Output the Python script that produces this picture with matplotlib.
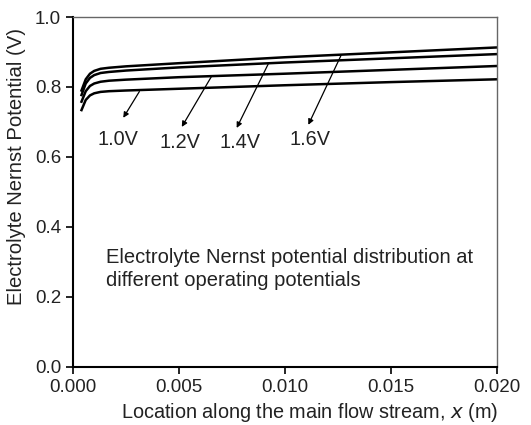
import numpy as np
import matplotlib
matplotlib.use("Agg")
import matplotlib.pyplot as plt

plt.rcParams['font.family'] = ['Liberation Sans', 'DejaVu Sans']

# location along flow (m)
x = [0.0004, 0.0006, 0.0008, 0.001, 0.0013, 0.0017, 0.0025, 0.005, 0.01, 0.015, 0.02]

# electrolyte Nernst potential (V) for each operating potential
v_10 = [0.734, 0.763, 0.776, 0.782, 0.786, 0.788, 0.790, 0.795, 0.805, 0.814, 0.822]
v_12 = [0.758, 0.788, 0.803, 0.810, 0.815, 0.818, 0.821, 0.828, 0.838, 0.849, 0.860]
v_14 = [0.777, 0.810, 0.826, 0.834, 0.840, 0.843, 0.847, 0.856, 0.870, 0.882, 0.894]
v_16 = [0.790, 0.822, 0.838, 0.846, 0.852, 0.855, 0.859, 0.868, 0.885, 0.899, 0.913]

labels = ['1.0V', '1.2V', '1.4V', '1.6V']
# arrow start (on curve), arrow tip, label position
arrow_from = [(0.00313, 0.787), (0.00654, 0.831), (0.00921, 0.866), (0.01264, 0.890)]
arrow_to = [(0.00237, 0.712), (0.00513, 0.686), (0.00772, 0.683), (0.0111, 0.692)]
label_pos = [(0.00212, 0.650), (0.00505, 0.640), (0.00788, 0.640), (0.01118, 0.650)]

txt = '#222222'
fig = plt.figure(figsize=(5.31, 4.25), dpi=100)
ax = fig.add_axes([0.1375, 0.1365, 0.7985, 0.8235])

for v in (v_10, v_12, v_14, v_16):
    ax.plot(x, v, color='black', linewidth=1.8)

for lab, p0, p1, pl in zip(labels, arrow_from, arrow_to, label_pos):
    ax.annotate('', xy=p1, xytext=p0,
                arrowprops=dict(arrowstyle='-|>', color='black', lw=0.9,
                                mutation_scale=8, shrinkA=0, shrinkB=0))
    ax.text(pl[0], pl[1], lab, ha='center', va='center', fontsize=14.3, color=txt)

ax.text(0.00156, 0.280, 'Electrolyte Nernst potential distribution at\ndifferent operating potentials',
        ha='left', va='center', fontsize=14.5, linespacing=1.32, color=txt)

ax.set_xlim(0, 0.02)
ax.set_ylim(0, 1.0)
ax.set_xticks([0.000, 0.005, 0.010, 0.015, 0.020])
ax.set_xticklabels(['0.000', '0.005', '0.010', '0.015', '0.020'])
ax.set_yticks([0.0, 0.2, 0.4, 0.6, 0.8, 1.0])
ax.set_yticklabels(['0.0', '0.2', '0.4', '0.6', '0.8', '1.0'])
ax.tick_params(direction='out', labelsize=13.5, width=1.2, length=5, labelcolor=txt)

for s in ax.spines.values():
    s.set_linewidth(1.0)
ax.spines['left'].set_linewidth(1.5)
ax.spines['bottom'].set_linewidth(1.5)
ax.spines['top'].set_color('#666666')
ax.spines['right'].set_color('#666666')

ax.set_xlabel('Location along the main flow stream, $\\mathit{x}$ (m)', fontsize=14.3, color=txt)
ax.xaxis.set_label_coords(0.557, -0.097)
ax.set_ylabel('Electrolyte Nernst Potential (V)', fontsize=14.6, color=txt)
ax.yaxis.set_label_coords(-0.111, 0.574)

plt.savefig('out.png', dpi=100)
plt.close()
